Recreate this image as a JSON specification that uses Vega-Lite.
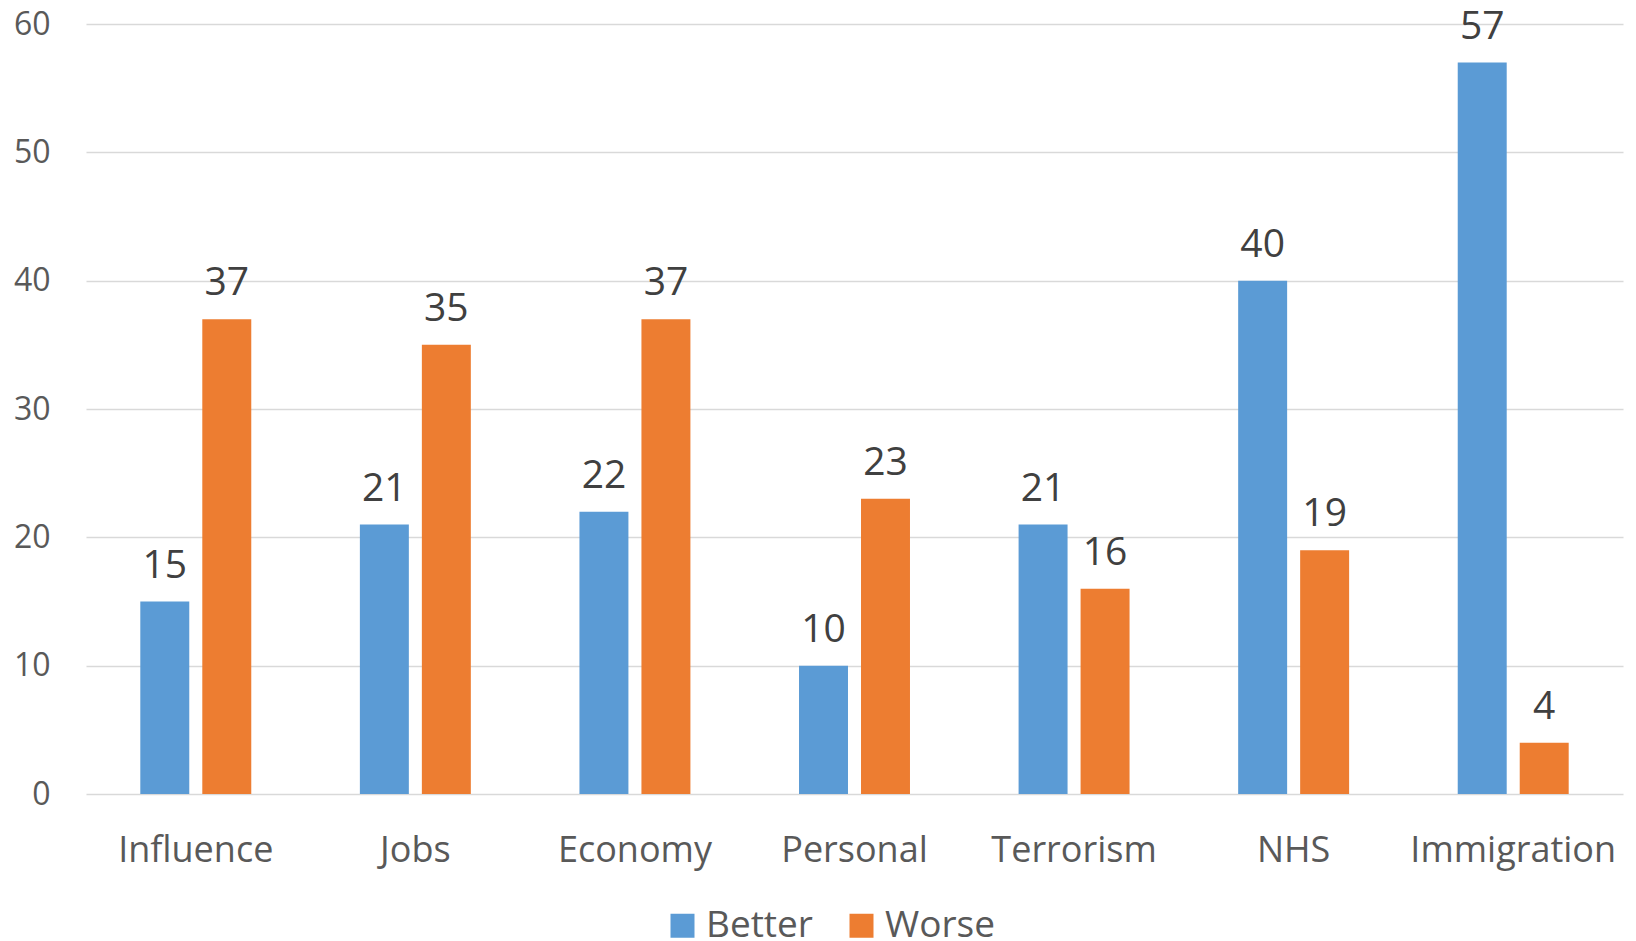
{
  "$schema": "https://vega.github.io/schema/vega-lite/v6.json",
  "width": 1537,
  "height": 770,
  "autosize": {"type": "none"},
  "padding": {"left": 86, "top": 24, "right": 13, "bottom": 147},
  "background": "white",
  "data": {
    "values": [
      {"topic": "Influence", "series": "Better", "value": 15},
      {"topic": "Influence", "series": "Worse", "value": 37},
      {"topic": "Jobs", "series": "Better", "value": 21},
      {"topic": "Jobs", "series": "Worse", "value": 35},
      {"topic": "Economy", "series": "Better", "value": 22},
      {"topic": "Economy", "series": "Worse", "value": 37},
      {"topic": "Personal", "series": "Better", "value": 10},
      {"topic": "Personal", "series": "Worse", "value": 23},
      {"topic": "Terrorism", "series": "Better", "value": 21},
      {"topic": "Terrorism", "series": "Worse", "value": 16},
      {"topic": "NHS", "series": "Better", "value": 40},
      {"topic": "NHS", "series": "Worse", "value": 19},
      {"topic": "Immigration", "series": "Better", "value": 57},
      {"topic": "Immigration", "series": "Worse", "value": 4}
    ]
  },
  "encoding": {
    "x": {
      "field": "topic",
      "type": "nominal",
      "sort": null,
      "scale": {"paddingInner": 0, "paddingOuter": 0},
      "axis": {
        "title": null,
        "labelAngle": 0,
        "ticks": false,
        "domain": false,
        "labelFont": "Open Sans",
        "labelFontSize": 36,
        "labelColor": "#595959",
        "labelBaseline": "alphabetic",
        "labelPadding": 67,
        "labelLimit": 0
      }
    },
    "xOffset": {
      "field": "series",
      "type": "nominal",
      "scale": {"paddingInner": 0.21, "paddingOuter": 0.876}
    },
    "y": {
      "field": "value",
      "type": "quantitative",
      "scale": {"domain": [0, 60], "nice": false},
      "axis": {
        "title": null,
        "values": [0, 10, 20, 30, 40, 50, 60],
        "ticks": false,
        "domain": false,
        "grid": true,
        "gridColor": "#d9d9d9",
        "gridWidth": 1.5,
        "labelFont": "Open Sans",
        "labelFontSize": 32,
        "labelColor": "#595959",
        "labelPadding": 36
      }
    }
  },
  "layer": [
    {
      "mark": {"type": "bar"},
      "encoding": {
        "color": {
          "field": "series",
          "type": "nominal",
          "scale": {"domain": ["Better", "Worse"], "range": ["#5B9BD5", "#ED7D31"]},
          "legend": {
            "title": null,
            "orient": "none",
            "direction": "horizontal",
            "legendX": 578,
            "legendY": 883,
            "symbolType": "square",
            "symbolSize": 576,
            "symbolStrokeWidth": 0,
            "labelFont": "Open Sans",
            "labelFontSize": 37,
            "labelColor": "#595959",
            "labelOffset": 5,
            "columnPadding": 30,
            "padding": 0
          }
        }
      }
    },
    {
      "mark": {
        "type": "text",
        "baseline": "alphabetic",
        "dy": -24,
        "font": "Open Sans",
        "fontSize": 39,
        "color": "#404040"
      },
      "encoding": {
        "text": {"field": "value", "type": "quantitative"}
      }
    }
  ],
  "config": {"view": {"stroke": null}}
}
